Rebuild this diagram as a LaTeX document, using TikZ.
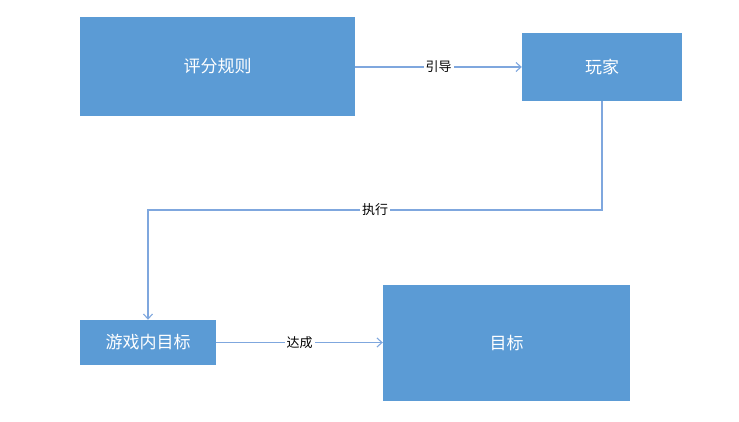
\documentclass[tikz,border=0pt]{standalone}
\usepackage{fontspec}
\setmainfont{Noto Sans CJK SC}
\usetikzlibrary{arrows.meta}
\definecolor{boxblue}{HTML}{5B9BD5}
\definecolor{linkblue}{HTML}{7FA7DE}
\begin{document}
\begin{tikzpicture}[
    x = 1pt, y = -1pt,
    box/.style = {fill=boxblue, text=white, font=\fontsize{17}{20}\selectfont, inner sep=0pt},
    link/.style = {linkblue, line width=1.1pt, -{Straight Barb[length=5pt,width=9pt]}},
    tag/.style = {fill=white, text=black, font=\fontsize{13}{15}\selectfont, inner sep=2pt}
]
\useasboundingbox (0,0) rectangle (739,422);

\node[box, minimum width=275pt, minimum height=99pt] (rule) at (217.5,66.5) {评分规则};
\node[box, minimum width=160pt, minimum height=68pt] (player) at (602,67) {玩家};
\node[box, minimum width=136pt, minimum height=45pt] (ingoal) at (148,342.5) {游戏内目标};
\node[box, minimum width=247pt, minimum height=116pt] (goal) at (506.5,343) {目标};

\coordinate (c1) at (602,210);
\coordinate (c2) at (148,210);

\draw[link] (rule.east |- player.west) -- node[tag] {引导} (player.west);
\draw[link] (player.south) -- (c1) -- node[tag, pos=0.5] {执行} (c2) -- (ingoal.north);
\draw[link] (ingoal.east) -- node[tag] {达成} (goal.west |- ingoal.east);

\end{tikzpicture}
\end{document}
